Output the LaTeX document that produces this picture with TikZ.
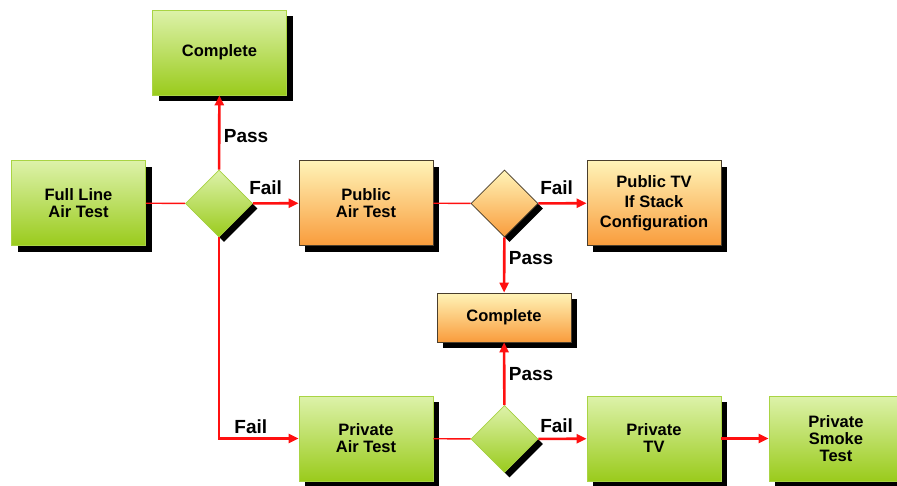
\documentclass[tikz,border=0pt]{standalone}
\usepackage{fontspec}
\setmainfont{Liberation Sans}
\usetikzlibrary{shapes.geometric,shadows,arrows.meta}

\definecolor{greentop}{HTML}{DDF2AA}
\definecolor{greenbot}{HTML}{9ACB1C}
\definecolor{greenline}{HTML}{A9D444}
\definecolor{orangetop}{HTML}{FFF4B8}
\definecolor{orangebot}{HTML}{F99C3C}
\definecolor{orangeline}{HTML}{4A3E2C}
\definecolor{linkred}{HTML}{FF1010}

\begin{document}
\begin{tikzpicture}[x=1pt, y=1pt,
    boxtext/.style={font=\bfseries\fontsize{16.5}{17}\selectfont, align=center},
    flowbox/.style={boxtext, rectangle, minimum width=134pt, minimum height=85pt,
        inner sep=0pt, line width=0.8pt,
        drop shadow={shadow xshift=6pt, shadow yshift=-6pt, fill=black, opacity=1}},
    greenbox/.style={flowbox, draw=greenline, top color=greentop, bottom color=greenbot},
    orangebox/.style={flowbox, draw=orangeline, top color=orangetop, bottom color=orangebot},
    flowdia/.style={diamond, aspect=1, minimum width=67pt, minimum height=67pt,
        inner sep=0pt, line width=0.8pt,
        drop shadow={shadow xshift=5pt, shadow yshift=-5pt, fill=black, opacity=1}},
    greendia/.style={flowdia, draw=greenline, top color=greentop, bottom color=greenbot},
    orangedia/.style={flowdia, draw=orangeline, top color=orangetop, bottom color=orangebot},
    feed/.style={draw=linkred, line width=1.4pt},
    result/.style={draw=linkred, line width=2.6pt, -{Triangle[length=10pt, width=9pt]}},
    lbl/.style={font=\bfseries\fontsize{19}{21}\selectfont, text=black}
  ]
    % Fix the page to the size of the picture
    \useasboundingbox (0,0) rectangle (897,-485);

    % First test and its decision
    \node[greenbox] (fullline) at (78.5,-203) {Full Line\\Air Test};
    \node[greendia] (dia1) at (219,-203.5) {};
    \node[greenbox] (done1) at (219.5,-52.5) {Complete};

    % Public branch
    \node[orangebox] (pubair) at (366,-203) {Public\\Air Test};
    \node[orangedia] (dia2) at (504.5,-203.5) {};
    \node[orangebox, font=\bfseries\fontsize{16.5}{20}\selectfont] (pubtv) at (654,-203)
        {Public TV\\If Stack\\Configuration};
    \node[orangebox, minimum height=49pt] (done2) at (504,-317.5) {Complete};

    % Private branch
    \node[greenbox] (privair) at (366,-438.5) {Private\\Air Test};
    \node[greendia] (dia3) at (504.5,-439) {};
    \node[greenbox] (privtv) at (654,-438.5) {Private\\TV};
    \node[greenbox] (privsmoke) at (836,-438.5) {Private\\Smoke\\Test};

    % Lines into the decisions
    \draw[feed] (fullline) -- (dia1);
    \draw[feed] (pubair) -- (dia2);
    \draw[feed] (privair) -- (dia3);

    % Pass and fail outcomes
    \draw[result] (dia1) -- node[lbl, pos=0.45, right] {Pass} (done1);
    \draw[result] (dia1) -- node[lbl, pos=0.28, above, yshift=4pt] {Fail} (pubair);
    \draw[result] (dia1) |- node[lbl, pos=0.7, above] {Fail} (privair);
    \draw[result] (dia2) -- node[lbl, pos=0.38, above, yshift=4pt] {Fail} (pubtv);
    \draw[result] (dia2) -- node[lbl, pos=0.38, right] {Pass} (done2);
    \draw[result] (dia3) -- node[lbl, right] {Pass} (done2);
    \draw[result] (dia3) -- node[lbl, pos=0.38, above, yshift=2pt] {Fail} (privtv);
    \draw[result] (privtv) -- (privsmoke);
\end{tikzpicture}
\end{document}
